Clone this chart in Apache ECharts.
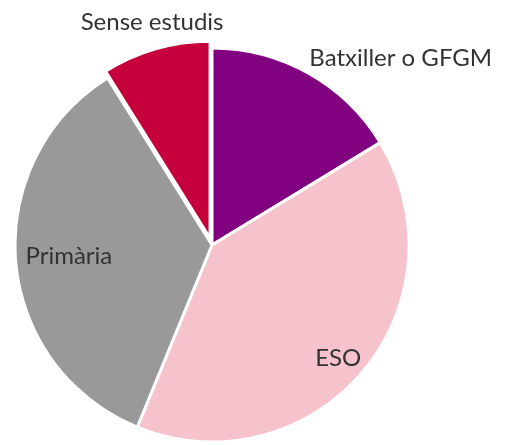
<!DOCTYPE html>
<html>
<head>
<meta charset="utf-8">
<script src="https://cdn.jsdelivr.net/npm/echarts@6/dist/echarts.min.js"></script>
<style>
  html, body { margin: 0; padding: 0; background: #fff; }
  #main { width: 505px; height: 445px; }
</style>
</head>
<body>
<div id="main"></div>
<script>
// dades del gràfic (percentatges estimats)
var categories = ['Batxiller o GFGM', 'ESO', 'Primària', 'Sense estudis'];
var values = [16.3, 39.9, 34.9, 8.9];
var colors = ['#800080', '#F6C3CD', '#999999', '#C5003D'];
// desplaçament de cada etiqueta respecte a la posició interior
var labelOffsets = [[139, -98], [49, 47], [-42, 3], [-30, -118]];

var myChart = echarts.init(document.getElementById('main'));

var data = categories.map(function (name, i) {
    return {
        name: name,
        value: values[i],
        selected: i === 3,
        itemStyle: { color: colors[i] },
        label: { offset: labelOffsets[i] },
        select: { label: { offset: labelOffsets[i] } }
    };
});

var option = {
    animation: false,
    series: [{
        type: 'pie',
        center: [212, 245],
        radius: 197,
        startAngle: 90,
        clockwise: true,
        selectedMode: 'single',
        selectedOffset: 7,
        itemStyle: { borderColor: '#fff', borderWidth: 3 },
        label: {
            show: true,
            position: 'inside',
            formatter: '{b}',
            color: '#333333',
            fontFamily: 'Lato',
            fontSize: 24
        },
        labelLine: { show: false },
        emphasis: { disabled: true },
        data: data
    }]
};
myChart.setOption(option);
</script>
</body>
</html>
